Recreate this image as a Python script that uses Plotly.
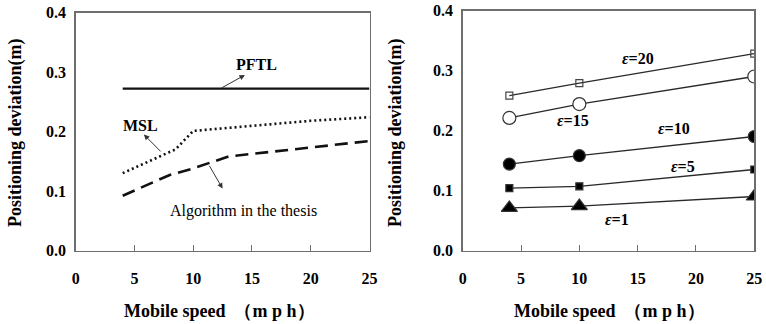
import plotly.graph_objects as go

# ---- data ----
pftl_x = [4, 25]
pftl_y = [0.272, 0.272]
msl_x = [4, 8.5, 10, 20, 25]
msl_y = [0.130, 0.170, 0.201, 0.218, 0.224]
alg_x = [4, 8, 10, 13, 25]
alg_y = [0.092, 0.127, 0.138, 0.158, 0.184]

eps_x = [4, 10, 25]
eps20 = [0.258, 0.279, 0.328]
eps15 = [0.221, 0.244, 0.290]
eps10 = [0.144, 0.158, 0.190]
eps5 = [0.104, 0.107, 0.135]
eps1 = [0.071, 0.074, 0.090]

x_ticks = [0, 5, 10, 15, 20, 25]
y_ticks = [0.0, 0.1, 0.2, 0.3, 0.4]
y_labels = ["0.0", "0.1", "0.2", "0.3", "0.4"]

# the page body margin is removed after plotting (post_script), so the figure fills the window
W, H = 766, 324
def px(x):  # page x -> paper fraction
    return x / W
def py(y):  # page y -> paper fraction
    return (H - y) / H

SERIF = "Liberation Serif"
AX = "#6e6e6e"
LC = "#2a2a2a"

fig = go.Figure()

# left panel
fig.add_trace(go.Scatter(x=pftl_x, y=pftl_y, mode="lines",
                         line=dict(color="#111", width=2.2), xaxis="x", yaxis="y"))
fig.add_trace(go.Scatter(x=msl_x, y=msl_y, mode="lines",
                         line=dict(color="#111", width=2.6, dash="2px,3px"), xaxis="x", yaxis="y"))
fig.add_trace(go.Scatter(x=alg_x, y=alg_y, mode="lines",
                         line=dict(color="#111", width=2.6, dash="13px,7px"), xaxis="x", yaxis="y"))

# right panel
def eps_trace(yv, symbol, size, fill, lw=1.3):
    return go.Scatter(x=eps_x, y=yv, mode="lines+markers",
                      line=dict(color=LC, width=lw),
                      marker=dict(symbol=symbol, size=size, color=fill,
                                  line=dict(color="#333", width=1.2)),
                      xaxis="x2", yaxis="y2")

fig.add_trace(eps_trace(eps20, "square-open", 7, "#444"))
fig.add_trace(eps_trace(eps15, "circle", 13, "white"))
fig.add_trace(eps_trace(eps10, "circle", 12, "black"))
fig.add_trace(eps_trace(eps5, "square", 7, "black"))
fig.add_trace(eps_trace(eps1, "triangle-up", 14, "black"))

tickfont = dict(family=SERIF, size=16, color="black", weight="bold")

def xaxis(domain, anchor):
    return dict(domain=domain, anchor=anchor, range=[0, 25], tickvals=x_ticks,
                ticks="inside", ticklen=6, tickwidth=1, tickcolor=AX,
                showline=True, linecolor=AX, linewidth=1.5, mirror=True,
                showgrid=False, zeroline=False, tickfont=tickfont, automargin=False,
                ticklabelstandoff=13, ticklabeloverflow="allow", fixedrange=True)

def yaxis(domain, anchor):
    return dict(domain=domain, anchor=anchor, range=[0, 0.4], tickvals=y_ticks,
                ticktext=y_labels, ticks="", showline=True, linecolor=AX,
                linewidth=1.5, mirror=True, showgrid=False, zeroline=False,
                automargin=False, tickfont=tickfont, ticklabelstandoff=5,
                ticklabeloverflow="allow", fixedrange=True)

fig.update_layout(
    width=W, height=H, margin=dict(l=0, r=0, t=0, b=0, autoexpand=False),
    paper_bgcolor="white", plot_bgcolor="white", showlegend=False,
    font=dict(family=SERIF), hovermode=False,
    xaxis=xaxis([px(75.7), px(369.5)], "y"),
    yaxis=yaxis([py(250.5), py(12.5)], "x"),
    xaxis2=xaxis([px(462.7), px(754.3)], "y2"),
    yaxis2=yaxis([py(250.5), py(10.5)], "x2"),
)

ann = []
titlefont = dict(family=SERIF, size=18, color="black", weight="bold")
for xc in [219, 609]:
    ann.append(dict(text="Mobile speed  （m p h）", x=px(xc), y=py(311),
                    xref="paper", yref="paper", xanchor="center", yanchor="middle",
                    showarrow=False, font=titlefont))
for xc in [15, 395]:
    ann.append(dict(text="Positioning deviation(m)", x=px(xc), y=py(133),
                    xref="paper", yref="paper", xanchor="center", yanchor="middle",
                    showarrow=False, textangle=-90, font=titlefont))

lab = dict(family=SERIF, size=16, color="black", weight="bold")
ann.append(dict(text="PFTL", x=15.4, y=0.313, xref="x", yref="y", showarrow=False, font=lab))
ann.append(dict(text="MSL", x=5.5, y=0.210, xref="x", yref="y", showarrow=False, font=lab))
ann.append(dict(text="Algorithm in the thesis", x=14.3, y=0.067, xref="x", yref="y",
                showarrow=False, font=dict(family=SERIF, size=16, color="black")))

arrow = dict(showarrow=True, arrowhead=2, arrowsize=1.1, arrowwidth=1, arrowcolor="#333",
             text="", xref="x", yref="y", axref="x", ayref="y")
ann.append(dict(x=14.4, y=0.295, ax=12.3, ay=0.272, **arrow))
ann.append(dict(x=5.8, y=0.195, ax=7.35, ay=0.164, **arrow))
ann.append(dict(x=12.5, y=0.104, ax=11.3, ay=0.145, **arrow))

# right labels (page pixel -> data on right axes)
def rx(p):
    return (p - 462.7) / 11.664
def ry(p):
    return (250.5 - p) / 601.25

for txt, lx, ly in [("20", 638, 58), ("15", 573, 120), ("10", 674, 128),
                    ("5", 683, 166), ("1", 617, 219)]:
    ann.append(dict(text="<i>ε</i>=" + txt, x=rx(lx), y=ry(ly), xref="x2", yref="y2",
                    showarrow=False, font=lab))

fig.update_layout(annotations=ann)
fig.write_html("out.html",
               config={"displayModeBar": False, "staticPlot": True},
               post_script="document.body.style.margin='0px';"
                           "document.body.style.overflow='hidden';")
